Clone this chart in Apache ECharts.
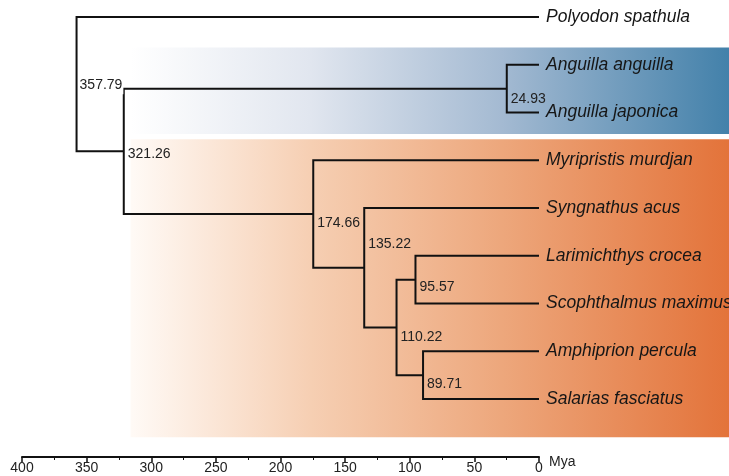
<!DOCTYPE html>
<html>
<head>
<meta charset="utf-8">
<title>Divergence times</title>
<script src="https://cdn.jsdelivr.net/npm/echarts@6/dist/echarts.min.js"></script>
<style>
  html, body { margin: 0; padding: 0; background: #ffffff; }
  #chart { width: 729px; height: 476px; }
</style>
</head>
<body>
<div id="chart"></div>
<script>
// Species at the tips, top to bottom
const leafNames = [
  'Polyodon spathula',
  'Anguilla anguilla',
  'Anguilla japonica',
  'Myripristis murdjan',
  'Syngnathus acus',
  'Larimichthys crocea',
  'Scophthalmus maximus',
  'Amphiprion percula',
  'Salarias fasciatus'
];

// Internal nodes: id, divergence time (Mya) and the two children (leaf name or node id)
const nodeIds    = ['root', 'n321', 'eel', 'n174', 'n135', 'n110', 'n95', 'n89'];
const nodeAges   = [357.79, 321.26, 24.93, 174.66, 135.22, 110.22, 95.57, 89.71];
const nodeChildA = ['Polyodon spathula', 'eel', 'Anguilla anguilla', 'Myripristis murdjan', 'Syngnathus acus', 'n95', 'Larimichthys crocea', 'Amphiprion percula'];
const nodeChildB = ['n321', 'n174', 'Anguilla japonica', 'n135', 'n110', 'n89', 'Scophthalmus maximus', 'Salarias fasciatus'];

// Highlighted clades (first and last tip of each)
const cladeFirst = ['Anguilla anguilla', 'Myripristis murdjan'];
const cladeLast  = ['Anguilla japonica', 'Salarias fasciatus'];

// Time axis
const axisMin = 0;
const axisMax = 400;
const axisStep = 50;

// ---- styling ----
const FONT = '"Liberation Sans", Arial, Helvetica, sans-serif';
const INK = '#111111';
const BAND_LEFT_MYA = 316;
const cladePad = [[0.36, 0.45], [0.44, 0.8]];
const cladeStops = [
  [[0, '#ffffff'], [0.3, '#e1e6ef'], [0.62, '#a4bad2'], [1, '#4381aa']],
  [[0, '#fffaf6'], [0.3, '#f6cfb3'], [0.62, '#eda77c'], [1, '#e3733a']]
];
// vertical nudge of each node's age label, px
const nodeLabelDy = { root: 1, n321: 3, eel: 11, n174: 9, n135: -24, n110: 10, n95: 8, n89: 9 };

// ---- layout: tip rows, node rows = mean of children ----
const yOf = {};
leafNames.forEach((n, i) => { yOf[n] = i; });
const ageOf = {};
leafNames.forEach(n => { ageOf[n] = 0; });
nodeIds.forEach((id, i) => { ageOf[id] = nodeAges[i]; });
function rowOf(id) {
  if (yOf[id] !== undefined) return yOf[id];
  const k = nodeIds.indexOf(id);
  yOf[id] = (rowOf(nodeChildA[k]) + rowOf(nodeChildB[k])) / 2;
  return yOf[id];
}
nodeIds.forEach(rowOf);

const branchData = nodeIds.map((id, k) => [
  nodeAges[k], yOf[nodeChildA[k]], yOf[nodeChildB[k]], ageOf[nodeChildA[k]], ageOf[nodeChildB[k]]
]);
const nodeLabelData = nodeIds.map((id, k) => [nodeAges[k], yOf[id], k]);
const leafData = leafNames.map((n, i) => [0, i, i]);
const bandData = cladeFirst.map((f, k) => [BAND_LEFT_MYA, yOf[f] - cladePad[k][0], yOf[cladeLast[k]] + cladePad[k][1], k]);

const chart = echarts.init(document.getElementById('chart'), null, { renderer: 'canvas' });

chart.setOption({
  backgroundColor: '#ffffff',
  animation: false,
  grid: { left: 22, right: 190, top: 17, bottom: 77, containLabel: false, outerBoundsMode: 'none' },
  xAxis: {
    type: 'value',
    inverse: true,
    min: axisMin,
    max: axisMax,
    interval: axisStep,
    position: 'bottom',
    offset: 58,
    name: 'Mya',
    nameLocation: 'start',
    nameGap: 10,
    nameTextStyle: { color: '#222', fontSize: 14, fontFamily: FONT, align: 'left', verticalAlign: 'top', padding: [-2, 0, 0, 0] },
    axisLine: { show: true, onZero: false, lineStyle: { color: INK, width: 2 } },
    axisTick: { show: true, length: 5, lineStyle: { color: INK, width: 1.5 } },
    minorTick: { show: true, splitNumber: 2, length: 3, lineStyle: { color: INK, width: 1 } },
    axisLabel: { color: '#222', fontSize: 14, fontFamily: FONT, margin: 4, showMinLabel: true, showMaxLabel: true, hideOverlap: false },
    splitLine: { show: false },
    minorSplitLine: { show: false }
  },
  yAxis: { type: 'value', inverse: true, min: 0, max: 8, show: false },
  series: [
    {
      // shaded clade bands
      type: 'custom',
      clip: false,
      z: 1,
      data: bandData,
      encode: { x: 0, y: [1, 2] },
      renderItem: function (params, api) {
        const a = api.coord([api.value(0), api.value(1)]);
        const b = api.coord([api.value(0), api.value(2)]);
        const w = api.getWidth() - a[0];
        return {
          type: 'rect',
          shape: { x: a[0], y: a[1], width: w, height: b[1] - a[1] },
          style: {
            fill: new echarts.graphic.LinearGradient(0, 0, 1, 0,
              cladeStops[api.value(3)].map(s => ({ offset: s[0], color: s[1] })))
          }
        };
      }
    },
    {
      // branches: one bracket per internal node
      type: 'custom',
      clip: false,
      z: 3,
      data: branchData,
      encode: { x: [0, 3, 4], y: [1, 2] },
      renderItem: function (params, api) {
        const p1 = api.coord([api.value(3), api.value(1)]);
        const p2 = api.coord([api.value(0), api.value(1)]);
        const p3 = api.coord([api.value(0), api.value(2)]);
        const p4 = api.coord([api.value(4), api.value(2)]);
        return {
          type: 'polyline',
          shape: { points: [p1, p2, p3, p4] },
          style: { stroke: INK, lineWidth: 2, fill: null, lineJoin: 'miter' }
        };
      }
    },
    {
      // divergence time labels
      type: 'custom',
      clip: false,
      z: 4,
      data: nodeLabelData,
      encode: { x: 0, y: 1 },
      renderItem: function (params, api) {
        const k = api.value(2);
        const id = nodeIds[k];
        const p = api.coord([api.value(0), api.value(1)]);
        const isRoot = id === 'root';
        return {
          type: 'text',
          x: p[0] + (isRoot ? 2 : 4),
          y: p[1] + nodeLabelDy[id],
          style: {
            text: nodeAges[k].toFixed(2),
            fill: '#222',
            fontSize: 14,
            fontFamily: FONT,
            align: 'left',
            verticalAlign: 'middle',
            backgroundColor: isRoot ? '#ffffff' : null,
            padding: isRoot ? [2, 1, 2, 1] : 0
          }
        };
      }
    },
    {
      // species names at the tips
      type: 'custom',
      clip: false,
      z: 4,
      data: leafData,
      encode: { x: 0, y: 1 },
      renderItem: function (params, api) {
        const p = api.coord([api.value(0), api.value(1)]);
        return {
          type: 'text',
          x: p[0] + 7,
          y: p[1],
          style: {
            text: leafNames[api.value(2)],
            fill: '#161616',
            fontSize: 17.5,
            fontStyle: 'italic',
            fontFamily: FONT,
            align: 'left',
            verticalAlign: 'middle'
          }
        };
      }
    }
  ]
});
</script>
</body>
</html>
